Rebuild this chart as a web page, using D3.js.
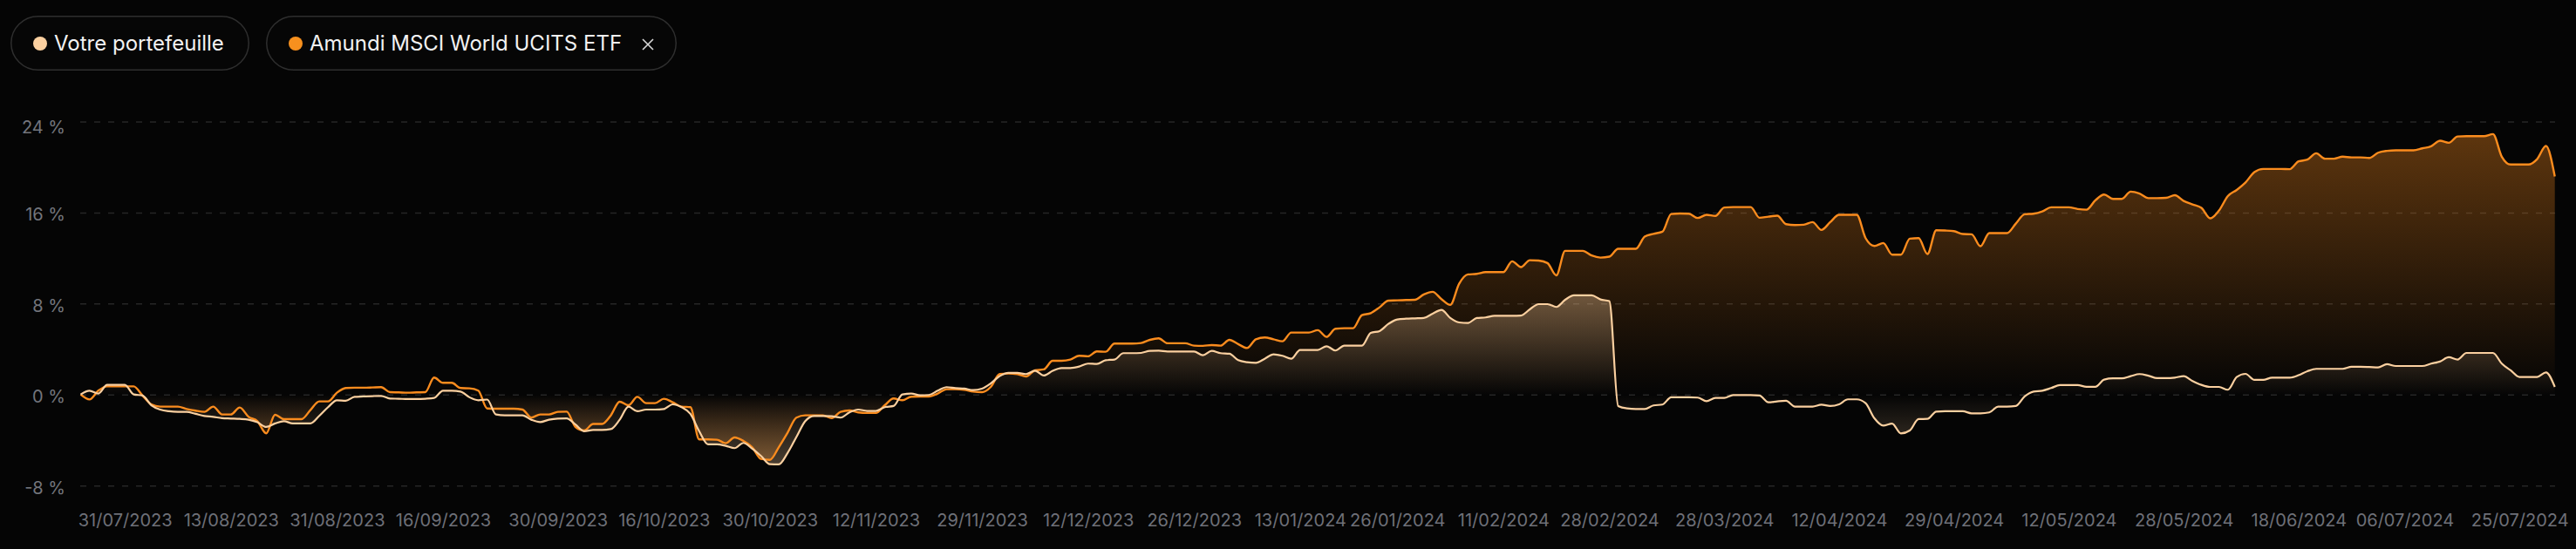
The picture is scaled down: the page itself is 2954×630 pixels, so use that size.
<!DOCTYPE html>
<html><head><meta charset="utf-8">
<script src="https://cdn.jsdelivr.net/npm/d3@7"></script>
<style>html,body{margin:0;padding:0;background:#050505;overflow:hidden}svg{display:block}</style>
</head><body>
<svg id="chart" width="2954" height="630"></svg>
<script>
// ---------- DATA ----------
const seriesNames = ["Votre portefeuille", "Amundi MSCI World UCITS ETF"];

// Performance (%) of "Votre portefeuille", one value per category point
const portfolio = [
0.05,0.38,0.13,0.89,0.89,0.89,0.05,-0.05,-0.9,-1.28,
-1.43,-1.48,-1.48,-1.66,-1.84,-1.92,-2.04,-2.07,-2.1,-2.17,
-2.4,-2.81,-2.5,-2.3,-2.5,-2.5,-2.5,-1.84,-1.07,-0.46,
-0.51,-0.16,-0.13,-0.1,-0.08,-0.31,-0.33,-0.36,-0.36,-0.33,
-0.26,0.38,0.38,0.3,-0.2,-0.46,-0.4,-1.71,-1.79,-1.79,
-1.79,-2.17,-2.38,-2.17,-2.07,-2.05,-2.6,-3.19,-3.07,-3.07,
-3.0,-2.17,-1.02,-1.43,-1.28,-1.28,-1.23,-0.82,-1.07,-1.66,
-3.19,-4.34,-4.34,-4.47,-4.67,-4.21,-4.72,-5.36,-6.08,-6.1,
-5.1,-3.7,-2.3,-1.84,-1.84,-1.87,-1.99,-1.53,-1.28,-1.4,
-1.4,-1.07,-0.97,0.05,0.13,-0.03,0.0,0.38,0.69,0.61,
0.56,0.43,0.56,1.02,1.66,1.94,1.94,1.84,2.14,1.71,
2.12,2.37,2.37,2.5,2.76,2.73,3.06,3.12,3.68,3.68,
3.7,3.88,3.9,3.83,3.83,3.83,3.83,3.49,3.88,3.68,
3.63,3.06,2.89,2.83,3.19,3.58,3.45,3.19,3.96,3.96,
3.96,4.29,3.91,4.34,4.34,4.34,5.46,5.62,6.25,6.64,
6.71,6.74,6.77,7.15,7.48,6.77,6.38,6.33,6.77,6.82,
6.97,6.97,6.97,6.99,7.53,7.99,7.99,7.74,8.37,8.76,
8.76,8.76,8.4,8.25,-0.97,-1.18,-1.23,-1.23,-0.92,-0.84,
-0.2,-0.2,-0.2,-0.23,-0.54,-0.26,-0.26,0.0,0.0,0.0,
-0.05,-0.64,-0.56,-0.51,-1.02,-1.02,-1.02,-0.85,-0.97,-0.82,
-0.38,-0.38,-0.72,-2.05,-2.69,-2.51,-3.38,-3.12,-2.12,-2.1,
-1.46,-1.43,-1.43,-1.43,-1.61,-1.61,-1.53,-1.02,-1.02,-0.97,
-0.13,0.3,0.38,0.61,0.87,0.87,0.87,0.72,0.72,1.35,
1.46,1.46,1.66,1.84,1.7,1.48,1.48,1.53,1.66,1.23,
0.89,0.71,0.71,0.46,1.58,1.86,1.33,1.33,1.53,1.53,
1.53,1.74,2.09,2.3,2.3,2.3,2.3,2.48,2.48,2.46,
2.43,2.71,2.55,2.55,2.55,2.55,2.76,2.94,3.32,3.12,
3.7,3.7,3.7,3.7,2.76,2.17,1.58,1.58,1.58,1.99,
0.71
];

// Performance (%) of "Amundi MSCI World UCITS ETF"
const etf = [
0.05,-0.39,0.38,0.76,0.76,0.76,0.76,-0.05,-0.82,-1.02,
-1.02,-1.02,-1.23,-1.38,-1.48,-1.02,-1.71,-1.71,-1.1,-1.92,
-2.3,-3.37,-1.74,-2.12,-2.12,-2.12,-1.33,-0.56,-0.56,0.2,
0.61,0.64,0.64,0.66,0.69,0.25,0.23,0.2,0.23,0.25,
1.53,1.07,1.07,0.61,0.59,0.38,-1.18,-1.2,-1.2,-1.2,
-1.28,-1.99,-1.71,-1.71,-1.48,-1.46,-2.81,-3.12,-2.55,-2.55,
-1.79,-0.59,-0.9,-0.16,-0.72,-0.72,-0.33,-0.64,-1.02,-1.07,
-3.91,-3.91,-3.93,-4.24,-3.73,-4.04,-4.6,-5.62,-5.7,-4.6,
-3.32,-1.99,-1.79,-1.79,-1.79,-2.04,-1.48,-1.36,-1.53,-1.58,
-1.58,-0.9,-0.31,-0.46,-0.15,-0.13,-0.13,0.13,0.51,0.51,
0.46,0.3,0.25,0.71,1.84,1.89,1.84,1.63,2.17,2.25,
3.01,3.01,3.11,3.45,3.4,3.83,3.8,4.52,4.52,4.52,
4.57,4.85,4.98,4.55,4.55,4.55,4.34,4.32,4.39,4.34,
4.85,4.47,4.13,4.9,5.06,4.9,4.72,5.49,5.49,5.49,
5.7,5.11,5.82,5.87,5.87,7.02,7.2,7.71,8.3,8.32,
8.35,8.37,8.84,9.07,8.43,7.92,9.78,10.6,10.65,10.8,
10.8,10.8,11.75,11.24,11.85,11.82,11.6,10.52,12.67,12.67,
12.67,12.26,12.08,12.16,12.85,12.85,12.85,13.92,14.17,14.35,
15.91,15.96,15.94,15.56,15.84,15.74,16.48,16.52,16.52,16.52,
15.58,15.68,15.76,15.02,14.94,14.97,15.2,14.51,15.2,15.84,
15.84,15.84,13.79,13.1,13.36,12.34,12.34,13.74,13.79,12.39,
14.48,14.46,14.4,14.15,14.13,13.08,14.23,14.23,14.23,15.07,
15.89,15.94,16.14,16.5,16.5,16.5,16.35,16.29,17.11,17.62,
17.24,17.24,17.88,17.7,17.31,17.31,17.33,17.57,17.06,16.75,
16.45,15.53,16.22,17.49,18.03,18.69,19.59,19.87,19.87,19.87,
19.85,20.54,20.69,21.25,20.77,20.77,20.95,20.89,20.89,20.84,
21.3,21.46,21.51,21.51,21.51,21.68,21.86,22.35,22.17,22.73,
22.76,22.76,22.76,22.94,20.95,20.26,20.26,20.26,20.74,21.89,
19.21
];

// x-axis tick labels (dates) and the category point each one sits on
const tickLabels = ["31/07/2023","13/08/2023","31/08/2023","16/09/2023","30/09/2023","16/10/2023","30/10/2023","12/11/2023","29/11/2023","12/12/2023","26/12/2023","13/01/2024","26/01/2024","11/02/2024","28/02/2024","28/03/2024","12/04/2024","29/04/2024","12/05/2024","28/05/2024","18/06/2024","06/07/2024","25/07/2024"];
const tickIndex = [5,17,29,41,54,66,78,90,102,114,126,138,149,161,173,186,199,212,225,238,251,263,276];

// y-axis ticks (%)
const yTicks = [-8, 0, 8, 16, 24];

// ---------- STYLE / LAYOUT ----------
const W = 2954, H = 630;
const colPortfolio = "#fbd0a0";
const colEtf = "#fb8c1e";
const font = "Inter, 'Noto Sans', sans-serif";

const svg = d3.select("#chart");
const defs = svg.append("defs");

svg.append("rect").attr("width", W).attr("height", H).attr("fill", "#050505");

const x = d3.scaleLinear().domain([0, etf.length - 1]).range([92.5, 2929.7]);
const y = d3.scaleLinear().domain([-8, 24]).range([557.7, 140]);

// grid
const grid = svg.append("g");
grid.selectAll("line").data(yTicks).join("line")
  .attr("x1", 92).attr("x2", 2930)
  .attr("y1", d => y(d)).attr("y2", d => y(d))
  .attr("stroke", "#262626").attr("stroke-width", 1.5)
  .attr("stroke-dasharray", "7 9");

// y labels
svg.append("g").selectAll("text").data(yTicks).join("text")
  .attr("x", 75).attr("y", d => Math.max(y(d) + 9, 152.5))
  .attr("text-anchor", "end")
  .attr("font-family", font).attr("font-size", 20)
  .attr("fill", "#73757c")
  .text(d => d + " %");

// x labels via axis
const xAxis = d3.axisBottom(x).tickValues(tickIndex)
  .tickFormat((d, i) => tickLabels[i]).tickSize(0).tickPadding(0);
const gx = svg.append("g").attr("transform", "translate(0,604)").call(xAxis);
gx.select(".domain").remove();
gx.selectAll("text")
  .attr("y", 0).attr("dy", 0)
  .attr("font-family", font).attr("font-size", 20)
  .attr("fill", "#6e7078");

// gradients
function makeGrad(id, data, rgb, aTop, aBot) {
  const mx = d3.max(data), mn = d3.min(data);
  const z = (y(0) - y(mx)) / (y(mn) - y(mx));
  const g = defs.append("linearGradient").attr("id", id)
    .attr("gradientUnits", "userSpaceOnUse")
    .attr("x1", 0).attr("x2", 0).attr("y1", y(mx)).attr("y2", y(mn));
  g.append("stop").attr("offset", 0).attr("stop-color", rgb).attr("stop-opacity", aTop);
  g.append("stop").attr("offset", z).attr("stop-color", rgb).attr("stop-opacity", 0);
  g.append("stop").attr("offset", 1).attr("stop-color", rgb).attr("stop-opacity", aBot);
}
makeGrad("gEtf", etf, colEtf, 0.36, 0.28);
makeGrad("gPf", portfolio, colPortfolio, 0.34, 0.28);

const curve = d3.curveMonotoneX;
const area = d3.area().x((d, i) => x(i)).y0(y(0)).y1(d => y(d)).curve(curve);
const line = d3.line().x((d, i) => x(i)).y(d => y(d)).curve(curve);

svg.append("path").datum(etf).attr("d", area).attr("fill", "url(#gEtf)");
svg.append("path").datum(portfolio).attr("d", area).attr("fill", "url(#gPf)");
svg.append("path").datum(etf).attr("d", line).attr("fill", "none")
  .attr("stroke", colEtf).attr("stroke-width", 2.4).attr("stroke-linejoin", "round");
svg.append("path").datum(portfolio).attr("d", line).attr("fill", "none")
  .attr("stroke", colPortfolio).attr("stroke-width", 2.2).attr("stroke-linejoin", "round");

// legend pills
const legend = [
  {name: seriesNames[0], color: colPortfolio, x: 12, w: 274, close: false},
  {name: seriesNames[1], color: "#f7901e", x: 305, w: 471, close: true}
];
const lg = svg.append("g");
legend.forEach(l => {
  const g = lg.append("g").attr("transform", `translate(${l.x},18)`);
  g.append("rect").attr("x", 0.75).attr("y", 0.75).attr("width", l.w - 1.5).attr("height", 61.5)
    .attr("rx", 31).attr("fill", "#060606").attr("stroke", "#2e2e2e").attr("stroke-width", 1.5);
  g.append("circle").attr("cx", 34).attr("cy", 32).attr("r", 8).attr("fill", l.color);
  g.append("text").attr("x", 50).attr("y", 39.5)
    .attr("font-family", font).attr("font-size", 24).attr("fill", "#f2f2f2")
    .text(l.name);
  if (l.close) {
    const cx = l.w - 33, cy = 33, s = 6;
    g.append("path").attr("d", `M${cx - s},${cy - s}L${cx + s},${cy + s}M${cx + s},${cy - s}L${cx - s},${cy + s}`)
      .attr("stroke", "#d8d8d8").attr("stroke-width", 1.6).attr("fill", "none");
  }
});
</script>
</body></html>
